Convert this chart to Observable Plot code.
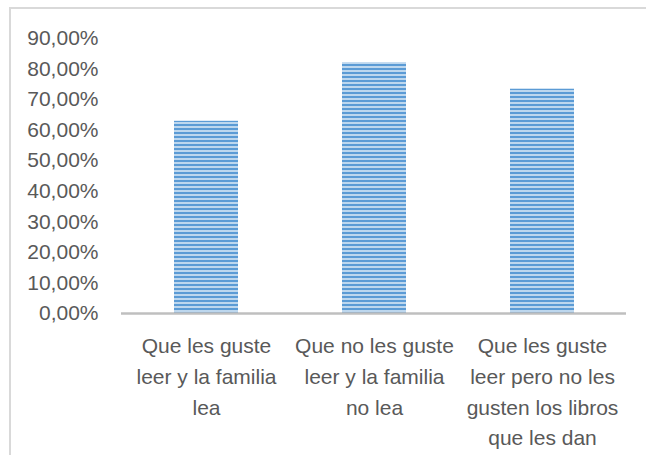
<!DOCTYPE html>
<html>
<head>
<meta charset="utf-8">
<script src="https://cdn.jsdelivr.net/npm/d3@7"></script>
<script src="https://cdn.jsdelivr.net/npm/@observablehq/plot@0.6"></script>
<style>
  html, body { margin: 0; padding: 0; background: #fff; overflow: hidden; }
  #frame { position: absolute; left: 9px; top: 7px; width: 700px; height: 500px;
           border-top: 2px solid #d9d9d9; border-left: 2px solid #d9d9d9; }
  #chart { position: absolute; left: 0; top: 0; }
</style>
</head>
<body>
<div id="frame"></div>
<div id="chart"></div>
<script>
const categories = [
  "Que les guste\nleer y la familia\nlea",
  "Que no les guste\nleer y la familia\nno lea",
  "Que les guste\nleer pero no les\ngusten los libros\nque les dan"
];
const values = [0.629, 0.821, 0.734];
const yTicks = [0, 0.1, 0.2, 0.3, 0.4, 0.5, 0.6, 0.7, 0.8, 0.9];

const data = categories.map((c, i) => ({category: c, value: values[i]}));

const defs = () => {
  const ns = "http://www.w3.org/2000/svg";
  const d = document.createElementNS(ns, "defs");
  const p = document.createElementNS(ns, "pattern");
  p.setAttribute("id", "stripes");
  p.setAttribute("patternUnits", "userSpaceOnUse");
  p.setAttribute("width", "8");
  p.setAttribute("height", "4");
  const r1 = document.createElementNS(ns, "rect");
  r1.setAttribute("width", "8"); r1.setAttribute("height", "4"); r1.setAttribute("fill", "#bdd7ee");
  const r2 = document.createElementNS(ns, "rect");
  r2.setAttribute("width", "8"); r2.setAttribute("height", "2"); r2.setAttribute("fill", "#5b9bd5");
  p.appendChild(r1); p.appendChild(r2);
  d.appendChild(p);
  return d;
};

const chart = Plot.plot({
  width: 646,
  height: 455,
  marginLeft: 121,
  marginRight: 20,
  marginTop: 38,
  marginBottom: 142,
  style: {fontFamily: "'Liberation Sans', Arial, sans-serif", fontSize: "21px", color: "#595959", background: "transparent"},
  x: {domain: categories, padding: 0, label: null},
  y: {domain: [0, 0.9], label: null},
  marks: [
    defs,
    Plot.barY(data, {x: "category", y: "value", fill: "url(#stripes)", insetLeft: 52, insetRight: 52}),
    Plot.ruleY([0], {stroke: "#bfbfbf", strokeWidth: 2.5}),
    Plot.axisY({ticks: yTicks, tickSize: 0, tickPadding: 23, label: null, fill: "#595959",
      tickFormat: d => (d * 100).toFixed(2).replace(".", ",") + "%"}),
    Plot.axisX({tickSize: 0, tickPadding: 18, label: null, fill: "#595959", lineHeight: 1.46})
  ]
});
document.getElementById("chart").appendChild(chart);
</script>
</body>
</html>
